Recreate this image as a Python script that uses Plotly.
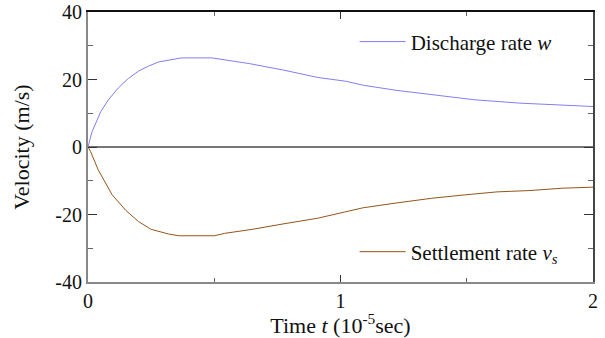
import plotly.graph_objects as go

# Time (10^-5 sec) and velocities (m/s)
t_w = [0, 0.016, 0.05, 0.08, 0.12, 0.16, 0.2, 0.24, 0.28, 0.33, 0.37, 0.49,
       0.64, 0.78, 0.91, 1.02, 1.09, 1.22, 1.36, 1.53, 1.71, 1.87, 2.0]
w = [0, 4.5, 10.4, 13.9, 17.5, 20.3, 22.5, 24.0, 25.2, 25.9, 26.4, 26.4,
     24.7, 22.7, 20.6, 19.5, 18.3, 16.8, 15.5, 14.0, 13.0, 12.4, 12.0]

t_v = [0, 0.01, 0.04, 0.095, 0.15, 0.2, 0.25, 0.32, 0.36, 0.5, 0.54, 0.65,
       0.78, 0.91, 1.02, 1.09, 1.22, 1.36, 1.49, 1.62, 1.75, 1.88, 2.0]
v_s = [0, -1.3, -6.7, -14.1, -18.8, -22.1, -24.4, -25.8, -26.3, -26.3, -25.6, -24.4,
       -22.7, -21.1, -19.2, -18.0, -16.6, -15.2, -14.2, -13.3, -12.9, -12.2, -11.9]

x_ticks = [0, 1, 2]
y_ticks = [-40, -20, 0, 20, 40]

FONT = "Liberation Serif"
BLUE = "#7f7ff0"
BROWN = "#94551c"
TICK_SIZE = 20
TITLE_SIZE = 22
LEG_SIZE = 21

fig = go.Figure()
fig.add_trace(go.Scatter(x=t_w, y=w, mode="lines", name="Discharge rate <i>w</i>",
                         line=dict(color=BLUE, width=1), legend="legend"))
fig.add_trace(go.Scatter(x=t_v, y=v_s, mode="lines", name="Settlement rate <i>v<sub>s</sub></i>",
                         line=dict(color=BROWN, width=1), legend="legend2"))

tick_font = dict(family=FONT, size=TICK_SIZE, color="#111")
title_font = dict(family=FONT, size=TITLE_SIZE, color="#111")
leg_font = dict(family=FONT, size=LEG_SIZE, color="#111")

fig.update_layout(
    width=605, height=338,
    margin=dict(l=88, r=12, t=12, b=56, autoexpand=False),
    paper_bgcolor="white", plot_bgcolor="white",
    font=dict(family=FONT, size=TICK_SIZE, color="#111"),
    xaxis=dict(range=[0, 2], tickvals=x_ticks, ticktext=[str(x) for x in x_ticks],
               ticks="inside", ticklen=7, tickcolor="#333", tickwidth=1,
               minor=dict(dtick=0.5, ticks="inside", ticklen=4, tickcolor="#666"),
               showline=True, linecolor="#888", linewidth=2, showgrid=False, zeroline=False,
               tickfont=tick_font, automargin=False, ticklabeloverflow="allow",
               title=dict(text="Time <i>t</i> (10<sup>-5</sup>sec)", font=title_font, standoff=0)),
    yaxis=dict(range=[-40, 40], tickvals=y_ticks, ticktext=[str(y) for y in y_ticks],
               ticks="inside", ticklen=9, tickcolor="#333", tickwidth=1,
               minor=dict(dtick=10, ticks="inside", ticklen=5, tickcolor="#666"),
               showline=True, linecolor="#888", linewidth=2, showgrid=False,
               zeroline=True, zerolinecolor="#777", zerolinewidth=1.5,
               tickfont=tick_font, automargin=False, ticklabeloverflow="allow",
               title=dict(text="Velocity (m/s)", font=title_font, standoff=20)),
    xaxis2=dict(range=[0, 2], overlaying="x", side="top", tickvals=x_ticks,
                showticklabels=False, ticks="inside", ticklen=7, tickcolor="#333",
                minor=dict(dtick=0.5, ticks="inside", ticklen=4, tickcolor="#666"),
                showline=True, linecolor="#111", linewidth=1.5, showgrid=False,
                zeroline=False, automargin=False),
    yaxis2=dict(range=[-40, 40], overlaying="y", side="right", tickvals=y_ticks,
                showticklabels=False, ticks="inside", ticklen=9, tickcolor="#333",
                minor=dict(dtick=10, ticks="inside", ticklen=5, tickcolor="#666"),
                showline=True, linecolor="#444", linewidth=1.5, showgrid=False,
                zeroline=False, automargin=False),
    legend=dict(x=0.528, y=0.889, xanchor="left", yanchor="middle", itemwidth=46,
                bgcolor="rgba(0,0,0,0)", font=leg_font),
    legend2=dict(x=0.528, y=0.111, xanchor="left", yanchor="middle", itemwidth=46,
                 bgcolor="rgba(0,0,0,0)", font=leg_font),
    showlegend=True,
)

# invisible trace to activate the mirrored axes
fig.add_trace(go.Scatter(x=[None], y=[None], xaxis="x2", yaxis="y2", showlegend=False,
                         hoverinfo="skip"))

# remove the default page margin so the figure sits at the window origin
fig.write_html("out.html", config={"displayModeBar": False},
               post_script="document.body.style.margin='0';")
